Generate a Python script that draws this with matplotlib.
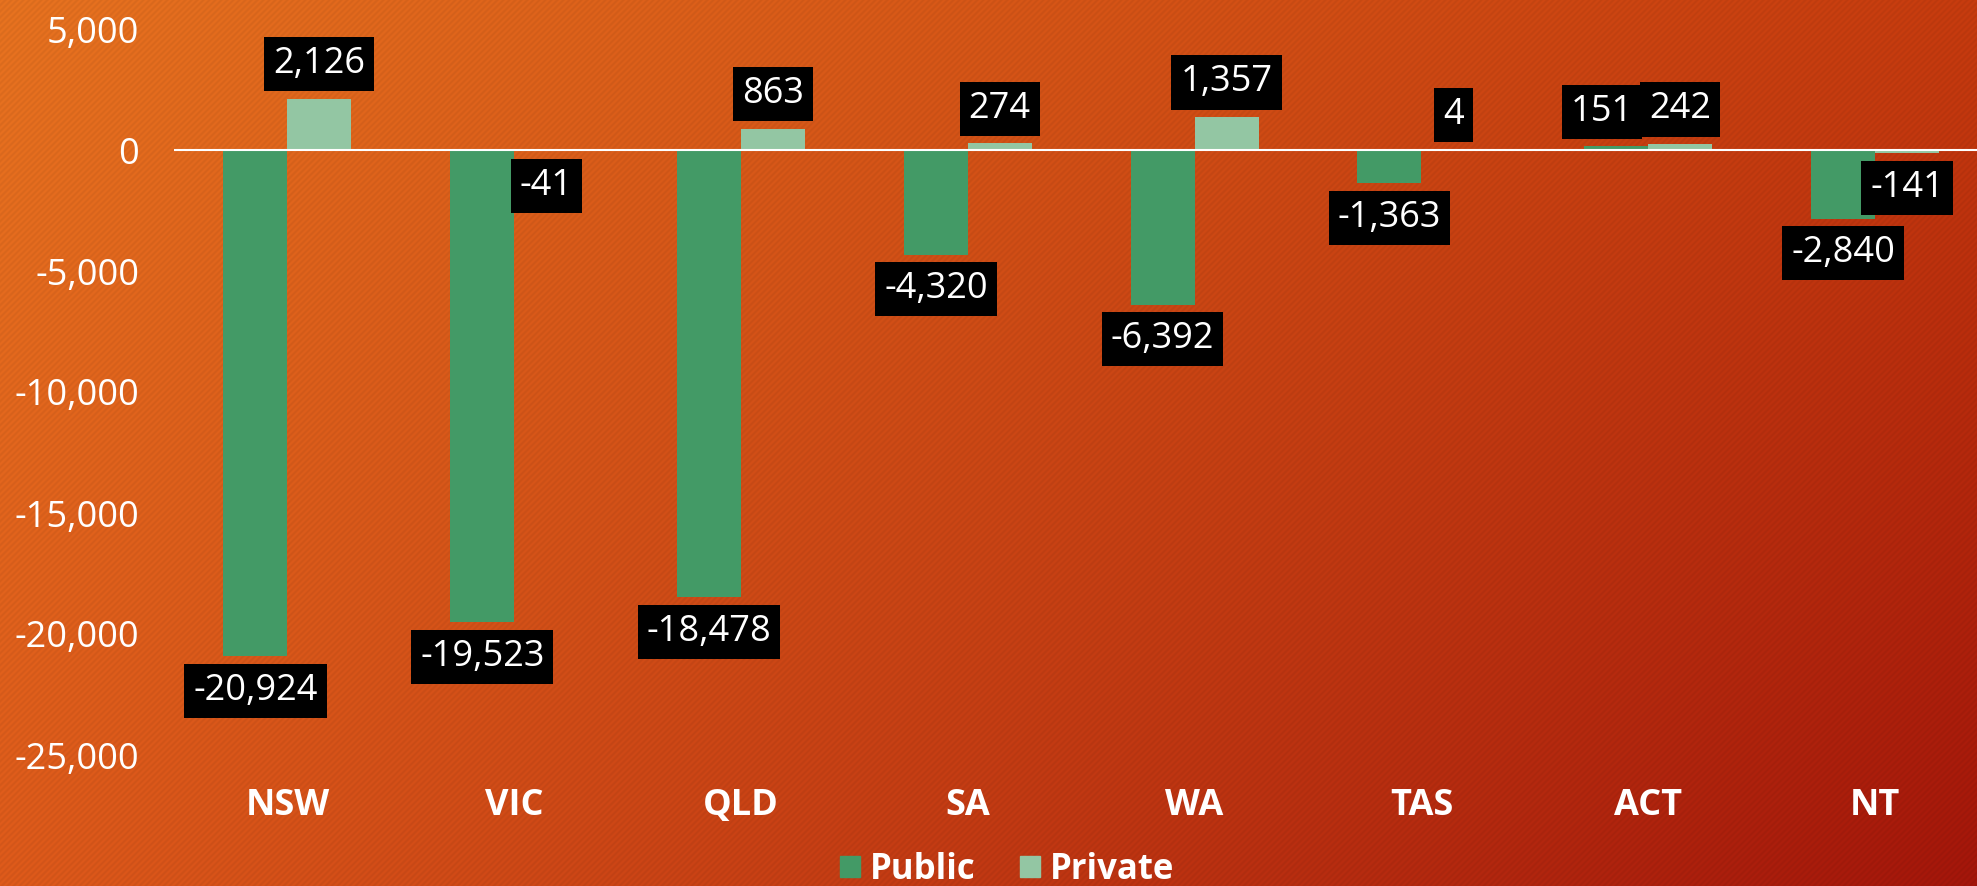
import numpy as np
import matplotlib

matplotlib.use("Agg")
import matplotlib.pyplot as plt
from matplotlib.patches import Patch

states = ["NSW", "VIC", "QLD", "SA", "WA", "TAS", "ACT", "NT"]
public = [-20924, -19523, -18478, -4320, -6392, -1363, 151, -2840]
private = [2126, -41, 863, 274, 1357, 4, 242, -141]
y_ticks = [5000, 0, -5000, -10000, -15000, -20000, -25000]

PUBLIC_CLR = "#439A66"
PRIVATE_CLR = "#93C6A3"

plt.rcParams["font.family"] = ["Open Sans", "DejaVu Sans"]

W, H = 1977, 886
fig = plt.figure(figsize=(W / 100, H / 100), dpi=100)

# background: orange -> dark red gradient with faint diagonal stripes
bg = fig.add_axes([0, 0, 1, 1], zorder=0)
bg.set_axis_off()
u = np.linspace(0, 1, W)[None, :, None]
v = np.linspace(0, 1, H)[:, None, None]
tl, tr, bl, br = (np.array(c) / 255 for c in [(226, 112, 31), (194, 58, 14), (217, 88, 26), (160, 21, 10)])
img = (1 - u) * (1 - v) * tl + u * (1 - v) * tr + (1 - u) * v * bl + u * v * br
xx, yy = np.meshgrid(np.arange(W), np.arange(H))
img = np.clip(img * (1 + 0.03 * np.sin(2 * np.pi * (xx + yy) / 6))[..., None], 0, 1)
bg.imshow(img, aspect="auto", extent=[0, 1, 0, 1], interpolation="nearest")

ax = fig.add_axes([174 / W, 131 / H, 8 * 226.8 / W, 726 / H], zorder=1)
ax.patch.set_alpha(0)

x = np.arange(len(states))
bw = 0.282
ax.bar(x - bw / 2, public, bw, color=PUBLIC_CLR, label="Public")
ax.bar(x + bw / 2, private, bw, color=PRIVATE_CLR, label="Private")
ax.set_xlim(-0.5, len(states) - 0.5)
ax.set_ylim(-25000, 5000)
ax.axhline(0, color="white", lw=1.5)
for s in ax.spines.values():
    s.set_visible(False)

ax.set_yticks(y_ticks)
ax.set_yticklabels([f"{t:,}" for t in y_ticks])
ax.tick_params(axis="y", length=0, pad=25, labelsize=26, labelcolor="white")
ax.set_xticks(x)
ax.set_xticklabels(states, fontweight="bold")
ax.tick_params(axis="x", length=0, pad=24, labelsize=26, labelcolor="white")


def add_label(xpos, val, dx=0):
    off = 12 if val >= 0 else -12
    ax.annotate(f"{val:,}", (xpos, val), xytext=(dx, off), textcoords="offset points",
                ha="center", va="bottom" if val >= 0 else "top", color="white", fontsize=26,
                bbox=dict(boxstyle="square,pad=0.25", fc="black", ec="none"), zorder=5)


# ACT labels sit side by side, nudge the public one left so they don't overlap
for i, val in enumerate(public):
    add_label(x[i] - bw / 2, val, dx=-10 if states[i] == "ACT" else 0)
for i, val in enumerate(private):
    add_label(x[i] + bw / 2, val)

handles = [Patch(color=PUBLIC_CLR), Patch(color=PRIVATE_CLR)]
fig.legend(handles, ["Public", "Private"], loc="center", bbox_to_anchor=(1007 / W, 16 / H),
           ncol=2, frameon=False, prop={"weight": "bold", "size": 25},
           handlelength=0.57, handleheight=0.57, handletextpad=0.28, columnspacing=1.3,
           labelcolor="white")

fig.savefig("out.png", dpi=100)
plt.close(fig)
